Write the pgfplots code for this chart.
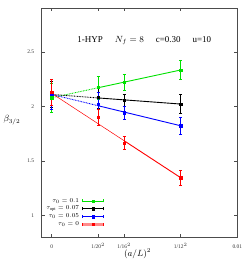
\documentclass[border=0pt]{standalone}
\usepackage{pgfplots}
\pgfplotsset{compat=1.18}
\usepackage{fontspec}
\setmainfont{Liberation Serif}
\definecolor{gpgreen}{RGB}{0,225,0}
\definecolor{gpblue}{RGB}{0,0,255}
\definecolor{gpred}{RGB}{255,0,0}
\definecolor{gpblack}{RGB}{0,0,0}
\pgfplotsset{
  errdata/.style={only marks, mark=square*, mark size=1.2bp,
    error bars/y dir=both, error bars/y explicit,
    error bars/error bar style={line width=0.6bp},
    error bars/error mark options={rotate=90, mark size=1.5bp, line width=0.6bp}},
  fitline/.style={line width=0.9bp, mark=none, forget plot},
  extline/.style={line width=0.9bp, mark=none, forget plot, dash pattern=on 0.8bp off 0.8bp},
}
\begin{document}
\begin{tikzpicture}
\begin{axis}[
  scale only axis, width=195.6bp, height=229bp,
  xmin=-0.00054, xmax=0.01, ymin=0.8, ymax=2.9,
  xtick={0,0.0025,0.00390625,0.0069444,0.01},
  xticklabels={0,{1/20$^2$},{1/16$^2$},{1/12$^2$},0.01},
  scaled x ticks=false,
  ytick={1,1.5,2,2.5},
  yticklabels={1,1.5,2,2.5},
  tick align=inside, major tick length=3bp,
  tick style={gray!60!black, line width=0.5bp},
  axis line style={gray!60!black, line width=0.6bp},
  tick label style={font=\fontsize{5.5}{6.5}\selectfont, text=black!80},
  yticklabel style={xshift=-4bp},
  xticklabel style={text height=5bp, text depth=0bp, yshift=-2.6bp},
  xlabel={$(a/L)^2$},
  xlabel style={at={(rel axis cs:0.49,-0.073)}, anchor=center, font=\fontsize{9}{10}\selectfont},
  ylabel={$\beta_{3/2}$},
  ylabel style={at={(rel axis cs:-0.152,0.512)}, rotate=-90, anchor=center, font=\fontsize{9}{10}\selectfont},
  legend plot pos=right,
  legend cell align=right,
  legend style={at={(rel axis cs:0.322,0.18)}, anchor=north east, draw=none, fill=none,
    inner sep=0pt, row sep=-1.5bp, font=\fontsize{6.3}{7}\selectfont},
  legend image code/.code={
    \draw[#1, mark=none, line width=0.8bp] (0bp,0bp) -- (21bp,0bp);
    \draw[#1, mark=none, line width=0.6bp] (0bp,-1.5bp) -- (0bp,1.5bp) (21bp,-1.5bp) -- (21bp,1.5bp);
    \draw[#1] plot coordinates {(11bp,0bp)};
  },
]
% fit lines
\addplot[extline, gpgreen] coordinates {(0,2.08) (0.0025,2.1715)};
\addplot[fitline, gpgreen] coordinates {(0.0025,2.1715) (0.0069444,2.334)};
\addplot[extline, gpblack] coordinates {(0,2.11) (0.0025,2.078)};
\addplot[fitline, gpblack] coordinates {(0.0025,2.078) (0.0069444,2.022)};
\addplot[extline, gpblue] coordinates {(0,2.11) (0.0025,2.0066)};
\addplot[fitline, gpblue] coordinates {(0.0025,2.0066) (0.0069444,1.823)};
\addplot[fitline, gpred, line width=0.5bp, solid] coordinates {(0,2.12) (0.00390625,1.685)};
\addplot[fitline, gpred] coordinates {(0.00390625,1.685) (0.0069444,1.347)};
% data
\addplot[gpgreen, errdata] coordinates {
  (0,2.08) +- (0,0.13)
  (0.0025,2.175) +- (0,0.105)
  (0.00390625,2.222) +- (0,0.075)
  (0.0069444,2.334) +- (0,0.087)
};
\addlegendentry{$\tau_0 = 0.1$}
\addplot[gpblack, errdata] coordinates {
  (0,2.11) +- (0,0.12)
  (0.0025,2.085) +- (0,0.10)
  (0.00390625,2.057) +- (0,0.057)
  (0.0069444,2.022) +- (0,0.085)
};
\addlegendentry{$\tau_{\rm opt} = 0.07$}
\addplot[gpblue, errdata] coordinates {
  (0,2.11) +- (0,0.14)
  (0.0025,2.02) +- (0,0.11)
  (0.00390625,1.942) +- (0,0.06)
  (0.0069444,1.823) +- (0,0.08)
};
\addlegendentry{$\tau_0 = 0.05$}
\addplot[gpred, errdata,
  legend image code/.code={
    \draw[gpred!45, line width=2.4bp] (0bp,0bp) -- (21bp,0bp);
    \draw[gpred, line width=0.6bp] (0bp,-1.5bp) -- (0bp,1.5bp) (21bp,-1.5bp) -- (21bp,1.5bp);
    \draw[gpred, mark=square*, mark size=1.2bp] plot coordinates {(11bp,0bp)};
  }] coordinates {
  (0,2.13) +- (0,0.12)
  (0.0025,1.90) +- (0,0.075)
  (0.00390625,1.664) +- (0,0.06)
  (0.0069444,1.347) +- (0,0.068)
};
\addlegendentry{$\tau_0 = 0$}
\node[font=\fontsize{9}{10}\selectfont, anchor=center] at (axis cs:0.00499,2.606)
  {1-HYP\hspace{12bp}$N_f = 8$\hspace{12bp}c=0.30\hspace{12bp}u=10};
\end{axis}
\pgfresetboundingbox
\path ([shift={(-41.7bp,-24.7bp)}]current axis.south west) rectangle ([shift={(11.7bp,8.3bp)}]current axis.north east);
\end{tikzpicture}
\end{document}
